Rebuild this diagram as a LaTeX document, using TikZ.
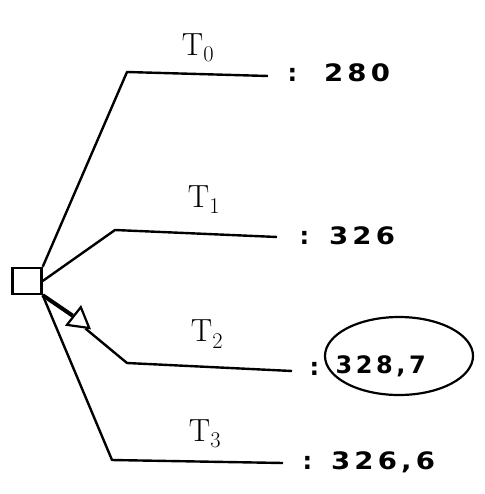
\documentclass[tikz,border=0pt]{standalone}
\usepackage{amsmath}
\usepackage{fontspec}
\usetikzlibrary{shapes,positioning}
\newfontfamily\handfont{DejaVu Sans}[LetterSpace=15]
\newcommand{\wide}[1]{\scalebox{1.15}[1]{#1}}

\tikzset{
  branch/.style={line width=2.4pt, line join=round},
  tlabel/.style={font=\fontsize{32}{36}\selectfont},
  value/.style={anchor=west, font=\handfont\bfseries\fontsize{24}{28}\selectfont},
}

\begin{document}
\begin{tikzpicture}[x=1pt, y=-1pt]
\useasboundingbox (0,0) rectangle (484,494);
% decision and chance nodes
\node[draw, rectangle, line width=2.4pt, minimum width=29pt, minimum height=26pt] (dec) at (27,281) {};
\node[draw, regular polygon, regular polygon sides=3, line width=2.2pt, minimum size=26pt, rotate=-8] (tri) at (79,320) {};

% corners and ends of the branches
\coordinate (c0) at (127,72);  \coordinate (e0) at (268,76);
\coordinate (c1) at (115,230); \coordinate (e1) at (277,237);
\coordinate (c2) at (127,363); \coordinate (e2) at (292,371);
\coordinate (c3) at (112,460); \coordinate (e3) at (283,463);

% labels
\node[tlabel] (t0) at (198,48) {T\textsubscript{0}};
\node[tlabel] (t1) at (204,200) {T\textsubscript{1}};
\node[tlabel] (t2) at (207,334) {T\textsubscript{2}};
\node[tlabel] (t3) at (205,434) {T\textsubscript{3}};

% values
\node[value] (v0) at (284,73) {:\hspace{27pt}\wide{280}};
\node[value] (v1) at (296,236) {:\hspace{20pt}\wide{326}};
\node[value] (v2) at (306,369) {:};
\node[value] (w2) at (332,366) {328,7};
\node[value] (v3) at (299,462) {:\hspace{19pt}\wide{326,6}};
\node[draw, ellipse, line width=2.2pt, minimum width=148pt, minimum height=78pt] (ring) at (399,356) {};

% branches
\draw[branch] (dec.north east) -- (c0) -- (e0);
\draw[branch] (dec.east) -- (c1) -- (e1);
\draw[line width=4pt] (dec.south east) -- (tri);
\draw[branch] (tri.south east) -- (c2) -- (e2);
\draw[branch] (dec.south east) -- (c3) -- (e3);
\end{tikzpicture}
\end{document}
